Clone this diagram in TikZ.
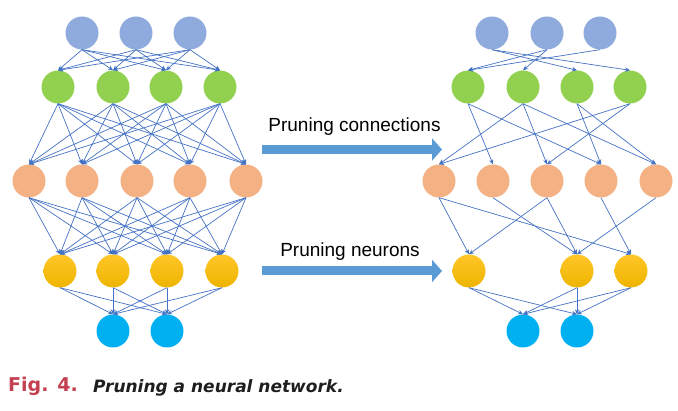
\documentclass[tikz,border=0pt]{standalone}
\usepackage{fontspec}
\setmainfont{Liberation Sans}
\newfontfamily\capfont{DejaVu Sans}
\usetikzlibrary{arrows.meta}
\definecolor{nblue}{RGB}{143,170,220}
\definecolor{ngreen}{RGB}{146,208,80}
\definecolor{norange}{RGB}{244,177,131}
\definecolor{nyellowtop}{RGB}{255,198,40}
\definecolor{nyellowbot}{RGB}{238,180,0}
\definecolor{ncyan}{RGB}{0,176,240}
\definecolor{edgeblue}{RGB}{68,114,196}
\definecolor{bigarrow}{RGB}{91,155,213}
\definecolor{figred}{RGB}{196,64,80}
\definecolor{captext}{RGB}{30,30,30}
\tikzset{
  neuron/.style={circle, minimum size=33pt, inner sep=0pt, draw=none},
  inl/.style={neuron, fill=nblue},
  hid1/.style={neuron, fill=ngreen},
  hid2/.style={neuron, fill=norange},
  hid3/.style={neuron, top color=nyellowtop, bottom color=nyellowbot},
  outl/.style={neuron, fill=ncyan},
  conn/.style={edgeblue, line width=0.7pt, -{Stealth[length=5pt,width=4.5pt]}},
  blockarrow/.style={bigarrow, line width=9pt, -{Triangle[length=10pt,width=22pt]}},
  lab/.style={font=\fontsize{19}{22}\selectfont, anchor=base, inner sep=0pt}
}
\begin{document}
\begin{tikzpicture}[x=1pt,y=-1pt]
\useasboundingbox (0,0) rectangle (678,411);
% ---------- left network ----------
\foreach \x [count=\i] in {82,136,190} \node[inl] (la\i) at (\x,33) {};
\foreach \x [count=\i] in {58,113,166,220} \node[hid1] (lb\i) at (\x,87) {};
\foreach \x [count=\i] in {29,82,137,190,246} \node[hid2] (lc\i) at (\x,181) {};
\foreach \x [count=\i] in {60,113,167,222} \node[hid3] (ld\i) at (\x,271) {};
\foreach \x [count=\i] in {113,167} \node[outl] (le\i) at (\x,331) {};
\foreach \i in {1,...,3} \foreach \j in {1,...,4} \draw[conn] (la\i.south) -- (lb\j.north);
\foreach \i in {1,...,4} \foreach \j in {1,...,5} \draw[conn] (lb\i.south) -- (lc\j.north);
\foreach \i in {1,...,5} \foreach \j in {1,...,4} \draw[conn] (lc\i.south) -- (ld\j.north);
\foreach \i in {1,...,4} \foreach \j in {1,2} \draw[conn] (ld\i.south) -- (le\j.north);
% ---------- right network ----------
\foreach \x [count=\i] in {492,547,600} \node[inl] (ra\i) at (\x,33) {};
\foreach \x [count=\i] in {468,523,577,630} \node[hid1] (rb\i) at (\x,87) {};
\foreach \x [count=\i] in {439,493,547,601,656} \node[hid2] (rc\i) at (\x,181) {};
\node[hid3] (rd1) at (469,271) {};
\node[hid3] (rd3) at (577,271) {};
\node[hid3] (rd4) at (631,271) {};
\foreach \x [count=\i] in {523,577} \node[outl] (re\i) at (\x,331) {};
\foreach \a/\b in {1/3,1/4,2/1,2/2,3/1} \draw[conn] (ra\a.south) -- (rb\b.north);
\foreach \a/\b in {1/2,1/4,2/1,2/3,2/5,3/4,3/5,4/1,4/3} \draw[conn] (rb\a.south) -- (rc\b.north);
\foreach \a/\b in {1/1,1/4,2/3,3/1,3/3,4/4,5/3} \draw[conn] (rc\a.south) -- (rd\b.north);
\foreach \a in {1,3,4} \foreach \b in {1,2} \draw[conn] (rd\a.south) -- (re\b.north);
% ---------- middle arrows ----------
\coordinate (p1s) at (262,149.5);
\coordinate (p1e) at (442,149.5);
\coordinate (p2s) at (262,271);
\coordinate (p2e) at (442,271);
\draw[blockarrow] (p1s) -- (p1e);
\draw[blockarrow] (p2s) -- (p2e);
\node[lab] (t1) at (354.5,132) {Pruning connections};
\node[lab] (t2) at (350,257) {Pruning neurons};
% ---------- caption ----------
\node[anchor=base west, inner sep=0pt, text=figred, font=\capfont\bfseries\fontsize{19}{22}\selectfont] (cap1) at (8,392) {Fig. 4.};
\node[anchor=base west, inner sep=0pt, text=captext, font=\capfont\bfseries\itshape\fontsize{17}{20}\selectfont] (cap2) at (93,392.5) {Pruning a neural network.};
\end{tikzpicture}
\end{document}
